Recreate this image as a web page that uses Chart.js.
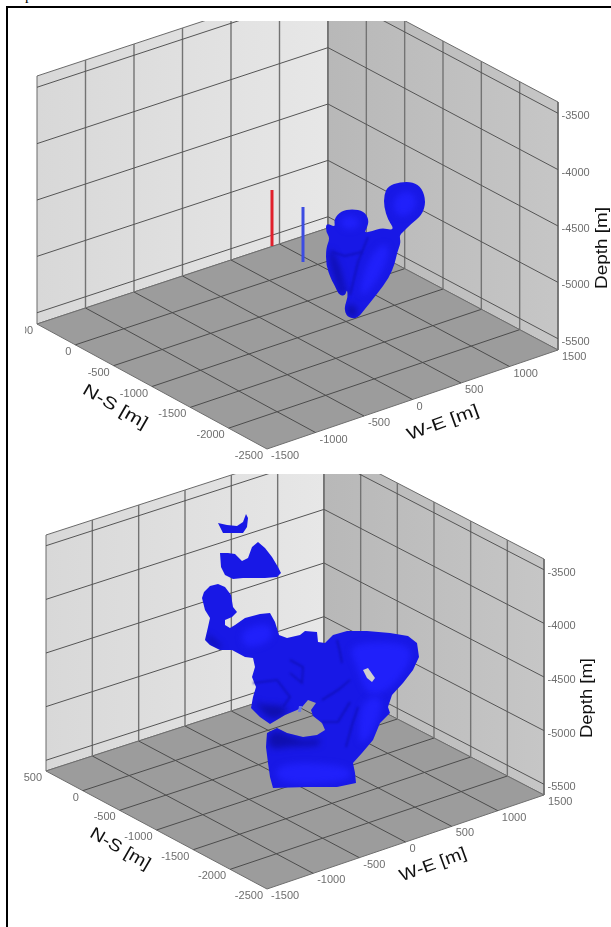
<!DOCTYPE html>
<html>
<head>
<meta charset="utf-8">
<script src="https://cdn.jsdelivr.net/npm/chart.js@4"></script>
<style>
  html, body { margin: 0; background: #fff; overflow: hidden; }
  #page { position: relative; width: 611px; height: 927px; overflow: hidden; }
  #frame { position: absolute; left: 6px; top: 6px; width: 620px; height: 930px; border-left: 2px solid #000; border-top: 2px solid #000; }
  #cut { position: absolute; left: 25px; top: -13px; font: 15px "Liberation Serif"; }
  canvas { position: absolute; left: 0; filter: blur(0.45px); }
</style>
</head>
<body>
<div id="page">
  <div id="cut">process.</div>
  <div id="frame"></div>
  <canvas id="panelTop" width="611" height="453" style="top:21px"></canvas>
  <canvas id="panelBottom" width="611" height="453" style="top:474px"></canvas>
</div>
<script>
const weTicks = [-1500, -1000, -500, 0, 500, 1000, 1500];
const nsTicks = [-2500, -2000, -1500, -1000, -500, 0, 500];
const depthTicks = [-3500, -4000, -4500, -5000, -5500];
const depthTop = -3400;
const depthBottom = -5600;

// wells, blob outlines: [x, y], in the plot's view units
const redWell = [[272, 190], [272, 246]];
const blueWell = [[303, 207], [303, 262]];

const topBlob = [[384,195],[388,186],[400,182],[413,182],[422,188],[426,202],[422,215],[411,224],[403,232],[399,236],
  [401,242],[397,253],[395,263],[389,278],[377,294],[365,309],[357,319],[347,317],[344,308],[348,297],[347,289],[345,296],
  [339,295],[335,286],[331,279],[326,265],[326,248],[330,238],[326,232],[326,223],[333,226],[335,226],[334,219],[341,211],
  [352,209],[364,211],[369,220],[367,228],[364,233],[372,231],[382,228],[392,230],[393,227],[388,220],[384,207]];
const topBright = [[[366,262],[385,240],[390,255],[375,285],[358,300]], [[395,195],[412,190],[418,205],[405,218],[393,212]], [[340,216],[358,216],[360,228],[342,230]]];
const topDark = [[[340,294],[336,285],[347,287],[345,295]], [[345,308],[352,303],[358,310],[356,318],[348,316]], [[327,250],[334,250],[346,288],[338,290]]];
const topFolds = [[[368,237],[358,262],[350,295]], [[332,252],[345,256],[362,252]]];

const crescent = [[218,523],[227,525],[237,526],[243,522],[246,514],[248,518],[247,527],[243,533],[233,533],[223,533]];
const saddle = [[220,553],[228,553],[235,554],[242,561],[248,558],[252,547],[258,542],[265,548],[272,557],[278,567],[281,573],
  [277,577],[265,578],[255,578],[243,578],[233,579],[225,575],[221,567]];
const mainBlob = [[204,592],[210,586],[218,584],[225,587],[231,595],[233,607],[237,612],[232,617],[225,620],[225,625],[230,628],
  [235,625],[245,618],[260,614],[270,613],[275,622],[279,635],[287,638],[300,635],[305,631],[317,632],[318,642],[325,643],
  [333,635],[347,631],[367,631],[390,633],[408,636],[417,643],[419,657],[413,670],[403,683],[392,695],[388,707],[390,713],
  [380,723],[373,740],[362,753],[353,763],[355,773],[356,783],[337,787],[307,787],[273,788],[270,777],[268,763],[266,747],
  [267,733],[277,728],[287,733],[303,737],[317,735],[325,730],[322,723],[313,716],[311,710],[316,703],[308,700],[302,707],
  [297,710],[285,715],[270,724],[260,717],[251,708],[253,697],[256,687],[252,677],[255,667],[253,658],[245,657],[232,650],
  [220,650],[210,645],[205,640],[208,627],[210,618],[205,610],[202,598]];
const mainBright = [[[347,643],[407,642],[413,660],[390,690],[367,697],[357,667]], [[276,762],[350,765],[352,782],[277,785]], [[360,700],[385,695],[375,730],[358,750]], [[240,630],[270,622],[274,640],[245,650]]];
const mainDark = [[[253,700],[270,722],[290,712],[282,705],[262,705]], [[267,735],[277,730],[290,736],[305,741],[320,738],[320,746],[290,746],[270,750]], [[205,632],[215,640],[225,650],[210,645]]];
const mainFolds = [[[337,640],[340,652],[342,663]], [[358,707],[352,725],[346,747]], [[253,683],[277,680],[290,697],[283,707]], [[290,660],[303,667],[302,683],[290,673]], [[322,700],[338,690],[350,680]], [[322,722],[338,722],[350,702]]];
const mainHole = [[363,670],[368,668],[375,678],[372,682],[367,678]];
const speck = [[299,706],[302,706],[301,712],[298,712]];

const topPanel = {
  id: 'panelTop', yMin: 21, yMax: 474, height: 248,
  front: [267, 449], right: [558, 350], left: [37, 324], back: [328, 228],
  depthTitle: [602, 248, 82], nsTitle: [115, 407, 72], weTitle: [443, 423, 75], clipLeft: 25
};
const bottomPanel = {
  id: 'panelBottom', yMin: 474, yMax: 927, height: 236,
  front: [267, 889], right: [544, 795], left: [46, 771], back: [324, 681],
  depthTitle: [587, 698, 80], nsTitle: [120, 849, 67], weTitle: [433, 865, 70], clipLeft: 0
};

// floor corners are blended, so the slight perspective of the box is kept
function project(p, we, ns, depth) {
  const u = (we + 1500) / 3000;
  const v = (ns + 2500) / 3000;
  const blend = i => (1 - u) * (1 - v) * p.front[i] + u * (1 - v) * p.right[i] + (1 - u) * v * p.left[i] + u * v * p.back[i];
  const lift = (depth - depthBottom) / (depthTop - depthBottom) * p.height;
  return { x: blend(0), y: blend(1) - lift };
}

const toPoints = list => list.map(pt => ({ x: pt[0], y: pt[1] }));

function lineSet(data, color, width) {
  return { data: data, showLine: true, borderColor: color, borderWidth: width, pointRadius: 0 };
}
function polySet(data, fill, edge) {
  return { data: data, polyFill: fill, showLine: !!edge, borderColor: edge, borderWidth: edge ? 1 : 0, pointRadius: 0 };
}

function boxDatasets(p) {
  const sets = [];
  sets.push(polySet([project(p, -1500, 500, depthBottom), project(p, -1500, 500, depthTop), project(p, 1500, 500, depthTop), project(p, 1500, 500, depthBottom), project(p, -1500, 500, depthBottom)], ['#d8d8d8', '#e7e7e7'], '#6a6a6a'));
  sets.push(polySet([project(p, 1500, 500, depthBottom), project(p, 1500, 500, depthTop), project(p, 1500, -2500, depthTop), project(p, 1500, -2500, depthBottom), project(p, 1500, 500, depthBottom)], ['#b8b8b8', '#c6c6c6'], '#6a6a6a'));
  sets.push(polySet([project(p, -1500, -2500, depthBottom), project(p, 1500, -2500, depthBottom), project(p, 1500, 500, depthBottom), project(p, -1500, 500, depthBottom), project(p, -1500, -2500, depthBottom)], ['#9c9c9c', '#9c9c9c'], '#6e6e6e'));

  weTicks.slice(1, 6).forEach(we => {
    sets.push(lineSet([project(p, we, -2500, depthBottom), project(p, we, 500, depthBottom)], '#4c4c4c', 1));
    sets.push(lineSet([project(p, we, 500, depthBottom), project(p, we, 500, depthTop)], '#737373', 1.4));
  });
  nsTicks.slice(1, 6).forEach(ns => {
    sets.push(lineSet([project(p, -1500, ns, depthBottom), project(p, 1500, ns, depthBottom)], '#4c4c4c', 1));
    sets.push(lineSet([project(p, 1500, ns, depthBottom), project(p, 1500, ns, depthTop)], '#737373', 1.4));
  });
  sets.push(lineSet([project(p, 1500, 500, depthBottom), project(p, 1500, 500, depthTop)], '#757575', 1.6));
  depthTicks.forEach(d => {
    sets.push(lineSet([project(p, -1500, 500, d), project(p, 1500, 500, d), project(p, 1500, -2500, d)], '#555555', 1));
  });
  return sets;
}

// shading patches are blurred and kept inside their outline
function blobDatasets(outlines, bright, dark, folds, smooth) {
  const sets = [];
  const body = toPoints(outlines[outlines.length - 1]);
  outlines.forEach(o => sets.push(Object.assign(polySet(toPoints(o), ['#1818e6', '#1818e6']), { smooth: smooth })));
  const patch = (o, color) => Object.assign(polySet(toPoints(o), [color, color]), { smooth: true, soft: 3, inside: body, insideSmooth: smooth });
  bright.forEach(o => sets.push(patch(o, '#2020fa')));
  dark.forEach(o => sets.push(patch(o, '#0f0fb0')));
  folds.forEach(o => sets.push(Object.assign(lineSet(toPoints(o), '#1010b8', 1.6), { soft: 1 })));
  return sets;
}

function tickLabels(p) {
  const out = [];
  depthTicks.forEach(d => {
    const pt = project(p, 1500, -2500, d);
    out.push({ text: String(d), x: pt.x + 3.5, y: pt.y + 3, align: 'left' });
  });
  nsTicks.forEach(ns => {
    const pt = project(p, -1500, ns, depthBottom);
    out.push({ text: String(ns), x: pt.x - 4, y: pt.y + 7, align: 'right', clip: ns === 500 ? p.clipLeft : 0 });
  });
  weTicks.forEach(we => {
    const pt = project(p, we, -2500, depthBottom);
    out.push({ text: String(we), x: pt.x + 4, y: pt.y + 7, align: 'left' });
  });
  return out;
}

function tracePath(ctx, pts, smooth) {
  ctx.beginPath();
  if (!smooth) {
    pts.forEach((e, i) => i ? ctx.lineTo(e.x, e.y) : ctx.moveTo(e.x, e.y));
  } else {
    const n = pts.length;
    ctx.moveTo((pts[n - 1].x + pts[0].x) / 2, (pts[n - 1].y + pts[0].y) / 2);
    pts.forEach((e, i) => {
      const next = pts[(i + 1) % n];
      ctx.quadraticCurveTo(e.x, e.y, (e.x + next.x) / 2, (e.y + next.y) / 2);
    });
  }
  ctx.closePath();
}

// closed shapes: fill under the dataset, from the points the scales gave us
const polygonFill = {
  id: 'polygonFill',
  beforeDatasetDraw(chart, args) {
    const ds = chart.data.datasets[args.index];
    const ctx = chart.ctx;
    if (!ds.polyFill) {
      if (ds.soft) ctx.filter = 'blur(' + ds.soft + 'px)';
      return;
    }
    const pts = args.meta.data;
    const xs = pts.map(e => e.x);
    const grad = ctx.createLinearGradient(Math.min(...xs), 0, Math.max(...xs), 0);
    grad.addColorStop(0, ds.polyFill[0]);
    grad.addColorStop(1, ds.polyFill[1]);
    ctx.save();
    if (ds.inside) {
      const sx = chart.scales.x, sy = chart.scales.y;
      tracePath(ctx, ds.inside.map(q => ({ x: sx.getPixelForValue(q.x), y: sy.getPixelForValue(q.y) })), ds.insideSmooth);
      ctx.clip();
    }
    if (ds.soft) ctx.filter = 'blur(' + ds.soft + 'px)';
    ctx.fillStyle = grad;
    tracePath(ctx, pts, ds.smooth);
    ctx.fill();
    ctx.restore();
  },
  afterDatasetDraw(chart) {
    chart.ctx.filter = 'none';
  }
};

const axisText = {
  id: 'axisText',
  afterDatasetsDraw(chart, args, opts) {
    const ctx = chart.ctx;
    const sx = chart.scales.x, sy = chart.scales.y;
    ctx.save();
    opts.ticks.forEach(t => {
      ctx.save();
      if (t.clip) {
        ctx.beginPath();
        ctx.rect(sx.getPixelForValue(t.clip), 0, chart.width, chart.height);
        ctx.clip();
      }
      ctx.font = '11px "Liberation Sans"';
      ctx.fillStyle = '#6e6e6e';
      ctx.textAlign = t.align;
      ctx.textBaseline = 'middle';
      ctx.fillText(t.text, sx.getPixelForValue(t.x), sy.getPixelForValue(t.y));
      ctx.restore();
    });
    opts.titles.forEach(t => {
      ctx.save();
      ctx.translate(sx.getPixelForValue(t.x), sy.getPixelForValue(t.y));
      ctx.rotate(t.angle * Math.PI / 180);
      ctx.font = '17px "Liberation Sans"';
      ctx.fillStyle = '#111111';
      ctx.textAlign = 'center';
      ctx.textBaseline = 'middle';
      ctx.scale(t.len / ctx.measureText(t.text).width, 1);
      ctx.fillText(t.text, 0, 0);
      ctx.restore();
    });
    ctx.restore();
  }
};

function drawPanel(p, marks) {
  const datasets = boxDatasets(p).concat(marks);
  datasets.forEach((d, i) => { d.order = datasets.length - i; });
  new Chart(document.getElementById(p.id), {
    type: 'scatter',
    data: { datasets: datasets },
    plugins: [polygonFill, axisText],
    options: {
      responsive: false,
      animation: false,
      layout: { padding: 0 },
      scales: {
        x: { type: 'linear', min: 0, max: 611, display: false },
        y: { type: 'linear', min: p.yMin, max: p.yMax, reverse: true, display: false }
      },
      plugins: {
        legend: { display: false },
        tooltip: { enabled: false },
        axisText: {
          ticks: tickLabels(p),
          titles: [
            { text: 'Depth [m]', x: p.depthTitle[0], y: p.depthTitle[1], len: p.depthTitle[2], angle: -90 },
            { text: 'N-S [m]', x: p.nsTitle[0], y: p.nsTitle[1], len: p.nsTitle[2], angle: 30 },
            { text: 'W-E [m]', x: p.weTitle[0], y: p.weTitle[1], len: p.weTitle[2], angle: -20 }
          ]
        }
      }
    }
  });
}

drawPanel(topPanel, [
  lineSet(toPoints(redWell), '#e0202c', 3),
  lineSet(toPoints(blueWell), '#3c4ce2', 3)
].concat(blobDatasets([topBlob], topBright, topDark, topFolds, true)));

drawPanel(bottomPanel, blobDatasets([crescent, saddle, mainBlob], mainBright, mainDark, mainFolds, false).concat([
  polySet(toPoints(mainHole), ['#cfcfcf', '#cfcfcf']),
  polySet(toPoints(speck), ['#6a78e6', '#6a78e6'])
]));
</script>
</body>
</html>
